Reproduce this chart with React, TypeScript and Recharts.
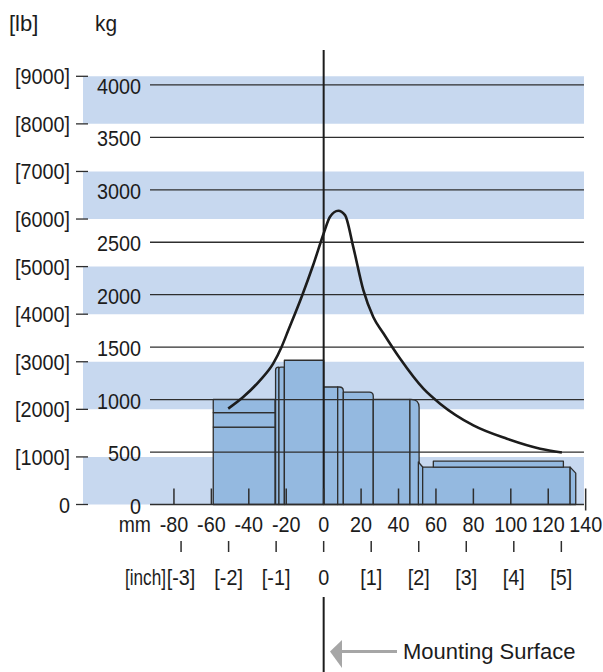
import { ComposedChart, Line, XAxis, YAxis, ReferenceArea, ReferenceLine } from 'recharts';

// load curve (mm from mounting surface -> kg)
const curveMm = [-51, -43, -34, -27, -22.5, -18.9, -11.8, -5.6, 0, 3.4, 7.8, 11.4, 15.8, 21.2, 26.5, 31.9, 40.8, 53.3, 62.2, 80, 97.9, 115.7, 127.3];
const curveKg = [914, 1024, 1184, 1343, 1502, 1661, 1979, 2283, 2584, 2743, 2800, 2759, 2456, 2043, 1788, 1632, 1391, 1104, 961, 754, 627, 532, 495];

const kgTicks = [0, 500, 1000, 1500, 2000, 2500, 3000, 3500, 4000];
const lbTicks = [0, 1000, 2000, 3000, 4000, 5000, 6000, 7000, 8000, 9000];
const mmTicks = [-80, -60, -40, -20, 0, 20, 40, 60, 80, 100, 120, 140];
const inchTicks = [-3, -2, -1, 0, 1, 2, 3, 4, 5];

// shaded bands, in lb
const bandFrom = [0, 2000, 4000, 6000, 8000];
const bandTo = [1000, 3000, 5000, 7000, 9000];

// profile blocks (mm, kg)
const blockFrom = [-59, -59, -59, -25.7, -23.9, -21, 0, 7.5, 10.5, 26.5, 46.1, 50.6, 52.9, 58.6, 131.7];
const blockTo = [-26, -26, -26, -23.9, -21, 0, 7.5, 10.5, 26.5, 46.1, 51, 52.9, 131.7, 128.1, 134.7];
const blockBase = [0, 738, 875, 0, 0, 0, 0, 0, 0, 0, 0, 0, 0, 356, 0];
const blockTop = [738, 875, 1002, 1310, 1310, 1375, 1120, 1120, 1072, 1002, 1002, 405, 356, 413, 356];

// corner style per block: rtl/rtr = rounded, ctr = chamfered
const blockCorner = ['', '', '', 'rtl', 'rtl', '', '', 'rtr', 'rtr', '', 'rtr', 'ctr', '', '', 'ctr'];
const cornerPx = [0, 0, 0, 3, 2, 0, 0, 4, 4, 0, 8, 5, 0, 0, 6];

const MM_PER_INCH = 25.4;
const curveData = curveMm.map((mm, i) => ({ mm, inch: mm / MM_PER_INCH, kg: curveKg[i] }));

const W = 603;
const H = 672;
const PLOT_BOTTOM = 504.5;
const X_MIN = -128.6;
const X_MAX = 140.5;
const X_BAND_END = 139.1;
const X_GRID_START = -92.8;
const KG_MAX = 4333;
const FONT = "'Liberation Sans', Arial, sans-serif";
const FS = 22;
const INK = '#1c1c1c';
const EDGE = '#2e2e2e';
const BLOCK_FILL = '#94b9e0';
const BAND_FILL = '#c7d8ef';

// condensed-looking text: squeeze horizontally around the anchor point
const NText = ({ x, y, anchor = 'start', sx = 0.9, children }: any) => (
  <g transform={`translate(${x},${y}) scale(${sx},1)`}>
    <text x={0} y={0} textAnchor={anchor} fontSize={FS} fontFamily={FONT} fill={INK}>{children}</text>
  </g>
);

const blockShape = (corner: string, r: number) => (p: any) => {
  const { x, y, width: w, height: h } = p;
  const b = y + h;
  let d = `M${x},${b} L${x},${y} L${x + w},${y} L${x + w},${b} Z`;
  if (corner === 'rtr') d = `M${x},${b} L${x},${y} L${x + w - r},${y} Q${x + w},${y} ${x + w},${y + r} L${x + w},${b} Z`;
  if (corner === 'rtl') d = `M${x},${b} L${x},${y + r} Q${x},${y} ${x + r},${y} L${x + w},${y} L${x + w},${b} Z`;
  if (corner === 'ctr') d = `M${x},${b} L${x},${y} L${x + w},${y + r} L${x + w},${b} Z`;
  return <path d={d} fill={BLOCK_FILL} stroke={EDGE} strokeWidth={1.3} strokeLinejoin="round" />;
};

const KgTick = (p: any) => <NText x={141} y={p.y + 9} anchor="end">{p.payload.value}</NText>;

const LbTick = (p: any) => (
  <g>
    <line x1={76} x2={88} y1={p.y} y2={p.y} stroke={EDGE} strokeWidth={1.3} />
    <NText x={70} y={p.y + 8} anchor="end">{p.payload.value === 0 ? '0' : `[${p.payload.value}]`}</NText>
  </g>
);

const MmTick = (p: any) => {
  const v = p.payload.value;
  return (
    <g>
      <line x1={p.x} x2={p.x} y1={PLOT_BOTTOM - 16} y2={v === 140 ? PLOT_BOTTOM + 6 : PLOT_BOTTOM} stroke={EDGE} strokeWidth={1.5} />
      <NText x={p.x} y={532} anchor="middle">{v}</NText>
    </g>
  );
};

const InchTick = (p: any) => {
  const v = p.payload.value;
  return (
    <g>
      <line x1={p.x} x2={p.x} y1={541} y2={552} stroke={EDGE} strokeWidth={1.5} />
      <NText x={p.x} y={585} anchor="middle">{v === 0 ? '0' : `[${v}]`}</NText>
    </g>
  );
};

export default function App() {
  return (
    <div style={{ position: 'relative', width: W, height: H, background: '#fff' }}>
      <style>{'body{margin:0}'}</style>
      <ComposedChart width={W} height={H} data={curveData} margin={{ top: 50, right: W - 586.6, bottom: 87.5, left: 81 }}>
        <XAxis xAxisId="mm" dataKey="mm" type="number" domain={[X_MIN, X_MAX]} allowDataOverflow ticks={mmTicks} interval={0}
          height={30} axisLine={false} tickLine={false} tick={<MmTick />} />
        <XAxis xAxisId="inch" dataKey="inch" type="number" domain={[X_MIN / MM_PER_INCH, X_MAX / MM_PER_INCH]} allowDataOverflow
          ticks={inchTicks} interval={0} height={50} axisLine={false} tickLine={false} tick={<InchTick />} />
        <YAxis yAxisId="lb" type="number" domain={[0, KG_MAX / 0.45359]} allowDataOverflow ticks={lbTicks} interval={0}
          width={1} axisLine={false} tickLine={false} tick={<LbTick />} />
        <YAxis yAxisId="kg" dataKey="kg" type="number" domain={[0, KG_MAX]} allowDataOverflow ticks={kgTicks} interval={0}
          width={1} axisLine={false} tickLine={false} tick={<KgTick />} />

        {bandFrom.map((f, i) => (
          <ReferenceArea key={`band${i}`} xAxisId="mm" yAxisId="lb" x1={X_MIN} x2={X_BAND_END} y1={f} y2={bandTo[i]}
            fill={BAND_FILL} fillOpacity={1} stroke="none" />
        ))}

        {blockFrom.map((f, i) => (
          <ReferenceArea key={`blk${i}`} xAxisId="mm" yAxisId="kg" x1={f} x2={blockTo[i]} y1={blockBase[i]} y2={blockTop[i]}
            shape={blockShape(blockCorner[i], cornerPx[i])} />
        ))}

        {kgTicks.map((v) => (
          <ReferenceLine key={`grid${v}`} xAxisId="mm" yAxisId="kg" segment={[{ x: X_GRID_START, y: v }, { x: X_BAND_END, y: v }]}
            stroke={EDGE} strokeWidth={1.3} ifOverflow="visible" />
        ))}

        <Line xAxisId="mm" yAxisId="kg" dataKey="kg" type="monotone" stroke={INK} strokeWidth={2.6} dot={false} isAnimationActive={false} />

        <ReferenceLine xAxisId="mm" yAxisId="kg" segment={[{ x: 0, y: 0 }, { x: 0, y: KG_MAX }]} stroke={INK} strokeWidth={2} ifOverflow="visible" />
        <ReferenceLine xAxisId="mm" yAxisId="kg" segment={[{ x: 0, y: -882 }, { x: 0, y: -1600 }]} stroke={INK} strokeWidth={2} ifOverflow="visible" />
      </ComposedChart>

      <svg width={W} height={H} style={{ position: 'absolute', left: 0, top: 0, pointerEvents: 'none' }}>
        <NText x={9} y={31} sx={1}>[lb]</NText>
        <NText x={95} y={31} sx={0.95}>kg</NText>
        <NText x={151} y={532} anchor="end" sx={0.88}>mm</NText>
        <NText x={166} y={585} anchor="end" sx={0.78}>[inch]</NText>
        <line x1={340} x2={397} y1={651.5} y2={651.5} stroke="#a6a6a6" strokeWidth={3} />
        <polygon points="330,651.5 342,640 342,668" fill="#a6a6a6" />
        <NText x={403} y={659} sx={1}>Mounting Surface</NText>
      </svg>
    </div>
  );
}
